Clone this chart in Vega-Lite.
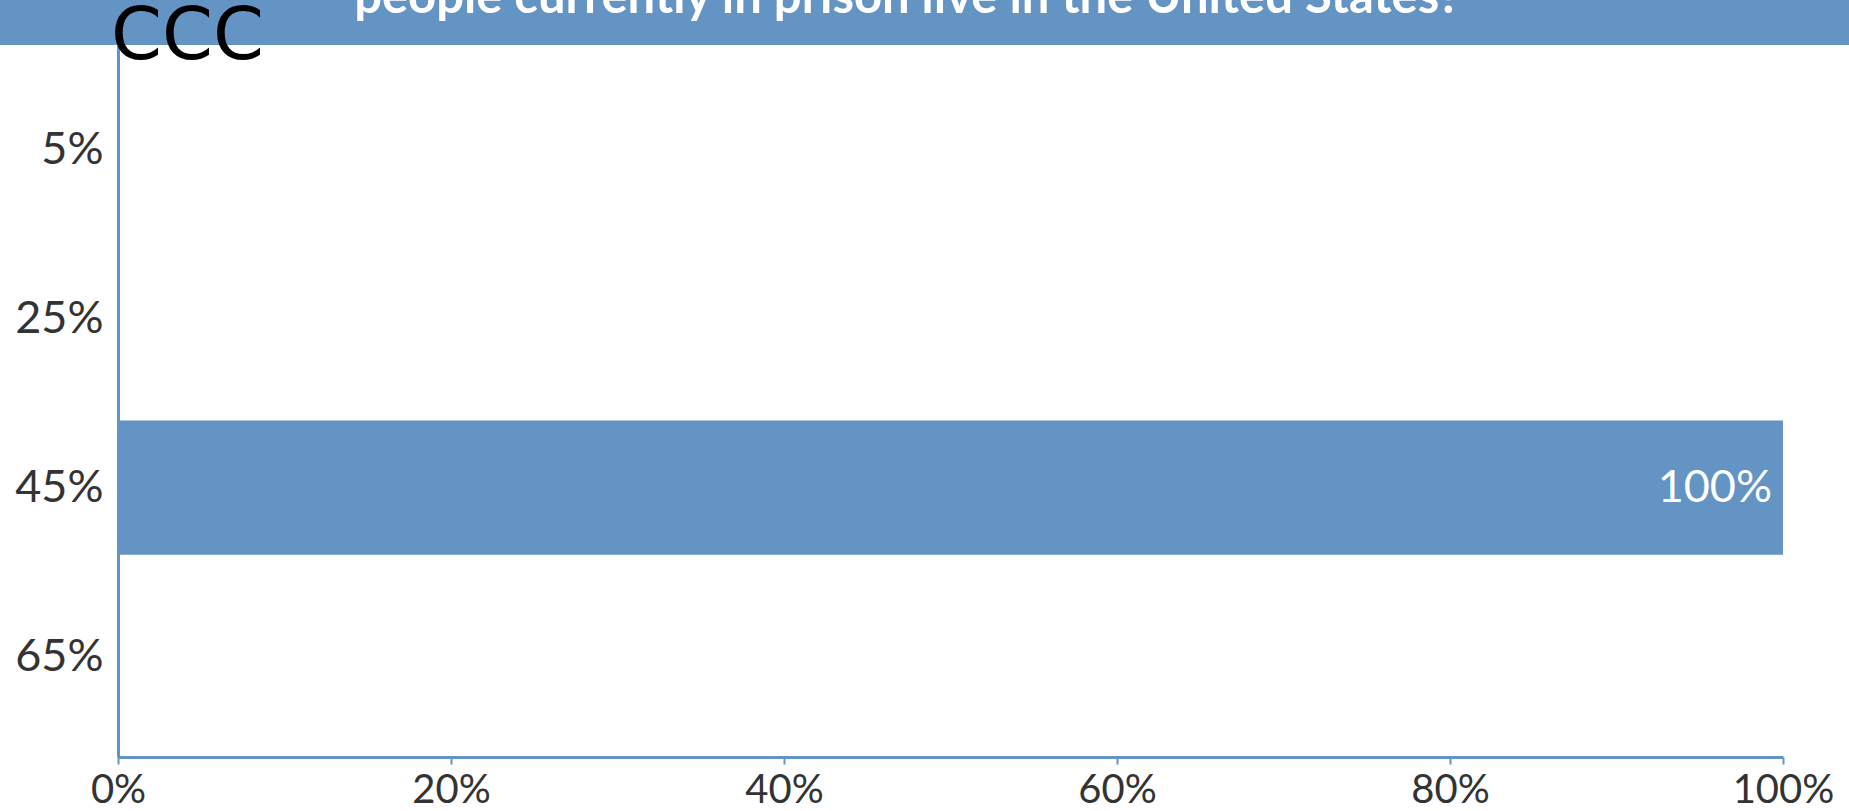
{
  "$schema": "https://vega.github.io/schema/vega-lite/v6.json",
  "width": 1849,
  "height": 757,
  "autosize": {"type": "none"},
  "padding": {"left": 0, "top": 0, "right": 0, "bottom": 54},
  "config": {"view": {"stroke": null}, "font": "Lato"},
  "layer": [
    {
      "data": {"values": [
        {"answer": "5%", "share": 0},
        {"answer": "25%", "share": 0},
        {"answer": "45%", "share": 1},
        {"answer": "65%", "share": 0}
      ]},
      "encoding": {
        "y": {
          "field": "answer", "type": "nominal", "sort": null,
          "scale": {"range": [45, 757], "paddingInner": 0.207, "paddingOuter": 0.21, "align": 0.53},
          "axis": {"title": null, "ticks": false, "labelPadding": 15, "labelFontSize": 45, "labelColor": "#333333", "labelFont": "Lato", "domainColor": "#6394c4", "domainWidth": 3, "offset": -118, "grid": false}
        },
        "x": {
          "field": "share", "type": "quantitative",
          "scale": {"domain": [0, 1], "range": [118, 1783]},
          "axis": {"title": null, "values": [0, 0.2, 0.4, 0.6, 0.8, 1], "format": ".0%", "grid": false, "labelFontSize": 40, "labelColor": "#333333", "labelFont": "Lato", "domainColor": "#6394c4", "domainWidth": 3, "tickColor": "#6394c4", "tickWidth": 2, "tickSize": 7, "labelPadding": 6, "labelFlush": false}
        }
      },
      "layer": [
        {"mark": {"type": "bar", "color": "#6394c4"}},
        {
          "transform": [{"filter": "datum.share > 0"}],
          "mark": {"type": "text", "color": "white", "fontSize": 45, "font": "Lato", "align": "right", "baseline": "middle", "dx": -11},
          "encoding": {"text": {"field": "share", "type": "quantitative", "format": ".0%"}}
        }
      ]
    },
    {
      "data": {"values": [
        {"band": "header", "question": "What percentage of the world's\npeople currently in prison live in the United States?", "tag": "CCC"}
      ]},
      "encoding": {
        "y": {"field": "band", "type": "nominal", "scale": {"range": [0, 45], "paddingInner": 0, "paddingOuter": 0}, "axis": null}
      },
      "layer": [
        {"mark": {"type": "rect", "color": "#6394c4"}},
        {
          "mark": {"type": "text", "color": "white", "fontSize": 49, "font": "Lato", "fontWeight": "bold", "align": "center", "baseline": "bottom", "lineBreak": "\n", "lineHeight": 58, "dy": -58, "dx": -17},
          "encoding": {"text": {"field": "question", "type": "nominal"}}
        },
        {
          "mark": {"type": "text", "color": "black", "fontSize": 73, "font": "DejaVu Sans", "align": "left", "baseline": "alphabetic", "dx": -7, "dy": 36},
          "encoding": {"text": {"field": "tag", "type": "nominal"}, "x": {"datum": 0, "type": "quantitative"}}
        }
      ]
    }
  ],
  "resolve": {"scale": {"y": "independent"}}
}
